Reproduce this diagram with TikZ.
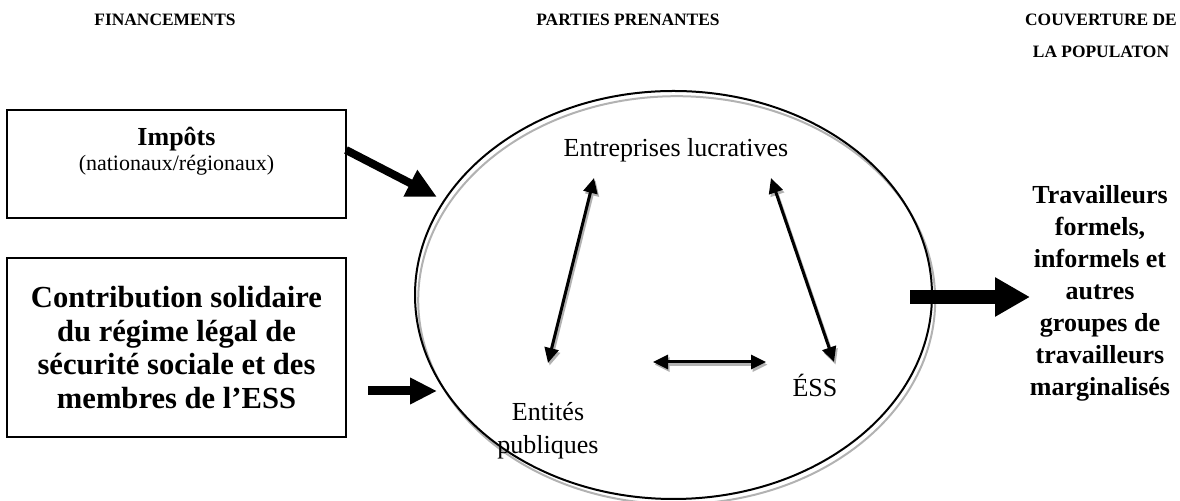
\documentclass[tikz,border=0pt]{standalone}
\usepackage{fontspec}
\setmainfont{Liberation Serif}
\usetikzlibrary{arrows.meta,shapes.geometric,positioning}

\begin{document}
\begin{tikzpicture}[x=0.5pt,y=-0.5pt,
  box/.style={draw, line width=1pt, minimum width=169.5pt, inner sep=0pt},
  body/.style={font=\fontsize{13}{16.5}\selectfont, align=center, inner sep=0pt},
  bold/.style={body, font=\fontsize{15.3}{16.8}\selectfont\bfseries},
  head/.style={font=\fontsize{8.7}{16}\selectfont\bfseries, align=center, inner sep=0pt},
  ell/.style={draw, ellipse, line width=1pt, minimum width=258.5pt, minimum height=204pt, inner sep=0pt},
  dbl/.style={line width=1.5pt, {Triangle[length=7.5pt,width=7pt]}-{Triangle[length=7.5pt,width=7pt]}},
  shade/.style={gray!60, transform canvas={shift={(0.8pt,-1.3pt)}}}
]
\useasboundingbox (0,0) rectangle (1180,501);

% column titles
\node[head] (fin) at (165,20) {FINANCEMENTS};
\node[head] (parties) at (628,20) {PARTIES PRENANTES};
\node[head] (couv) at (1101,36) {COUVERTURE DE\\LA POPULATON};

% financing
\node[box, minimum height=54pt] (impots) at (176.5,164) {};
\node[body, font=\fontsize{11}{12.5}\selectfont, below=9pt of impots.north] (impotstxt)
  {{\fontsize{13}{12.5}\selectfont\bfseries Impôts}\\(nationaux/régionaux)};
\node[box, bold, minimum height=89.5pt] (contrib) at (176.5,347.5)
  {Contribution solidaire\\du régime légal de\\sécurité sociale et des\\membres de l’ESS};

% stakeholders
\node[ell, gray!60, transform canvas={shift={(0.8pt,-1.3pt)}}] at (673.5,295) {};
\node[ell] (pp) at (673.5,295) {};
\node[body] (entreprises) at (676,150) {Entreprises lucratives};
\node[body] (entites) at (548,431) {Entités\\publiques};
\node[body] (ess) at (815,385) {ÉSS};

\coordinate (a1) at (548,363);
\coordinate (a2) at (594,178);
\coordinate (b1) at (771,178);
\coordinate (b2) at (834,362);
\coordinate (c1) at (653,362);
\coordinate (c2) at (766,362);

\foreach \s/\t in {a1/a2, b1/b2, c1/c2} {
  \draw[dbl, shade] (\s) -- (\t);
  \draw[dbl] (\s) -- (\t);
}

% population
\node[body, font=\fontsize{13}{16}\selectfont\bfseries] (trav) at (1100,293)
  {Travailleurs\\formels,\\informels et\\autres\\groupes de\\travailleurs\\marginalisés};

% flows
\coordinate (i1) at (346,150);
\coordinate (i2) at (437,197);
\coordinate (k1) at (368,391);
\coordinate (k2) at (437,391);
\coordinate (t1) at (910,297);
\coordinate (t2) at (1030,297);

\draw[line width=4pt, -{Triangle[length=15pt,width=14pt]}] (i1) -- (i2);
\draw[line width=4.5pt, -{Triangle[length=13.5pt,width=12.5pt]}] (k1) -- (k2);
\draw[line width=7pt, -{Triangle[length=17.5pt,width=18.5pt]}] (t1) -- (t2);

\end{tikzpicture}
\end{document}
